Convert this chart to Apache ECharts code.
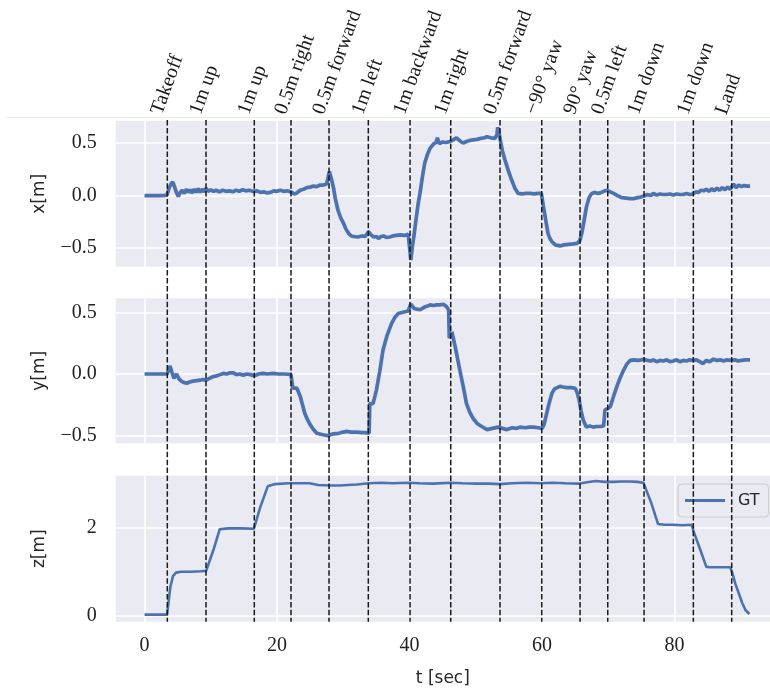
<!DOCTYPE html>
<html>
<head>
<meta charset="utf-8">
<script src="https://cdn.jsdelivr.net/npm/echarts@6/dist/echarts.min.js"></script>
<style>
  html, body { margin: 0; padding: 0; background: #ffffff; }
  #chart { width: 770px; height: 689px; }
</style>
</head>
<body>
<div id="chart"></div>
<script>
// Flight events (seconds) and their captions
const eventTimes = [3.44, 9.28, 16.57, 22.11, 27.85, 33.78, 40.08, 46.22, 53.66, 59.96, 65.74, 69.92, 75.40, 82.84, 88.63];
const eventLabels = ['Takeoff', '1m up', '1m up', '0.5m right', '0.5m forward', '1m left', '1m backward',
  '1m right', '0.5m forward', '\u221290\u00b0 yaw', '90\u00b0 yaw', '0.5m left', '1m down', '1m down', 'Land'];

// Ground-truth position, x [m]
const tX = [0, 1, 2, 3, 3.4, 3.7, 4.0, 4.25, 4.5, 4.8, 5.1, 5.4, 5.7, 6.0, 6.3, 6.6, 6.9, 7.2, 7.5, 7.8, 8.1, 8.4, 8.7, 9.0, 9.3, 9.6,
  10.0, 10.4, 10.8, 11.3, 11.8, 12.3, 12.8, 13.3, 13.8, 14.3, 14.8, 15.3, 15.8, 16.3, 16.6, 17.0, 17.5, 18.0, 18.5, 19.0, 19.5,
  20.0, 20.5, 21.0, 21.5, 22.1, 22.6, 23.0, 23.5, 24.0, 24.5, 25.0, 25.5, 26.0, 26.5, 27.0, 27.5, 27.8, 27.9, 28.2, 28.5, 28.8,
  29.2, 29.6, 30.0, 30.4, 30.8, 31.2, 31.6, 32.2, 32.8, 33.3, 33.8, 34.2, 34.6, 35.0, 35.3, 35.7, 36.1, 36.5, 37.0, 37.5, 38.0,
  38.6, 39.2, 39.8, 40.0, 40.2, 40.4, 40.7, 41.0, 41.3, 41.6, 42.0, 42.3, 42.7, 43.1, 43.6, 44.0, 44.2, 44.5, 45.0, 45.5, 46.1,
  46.6, 47.1, 47.6, 48.1, 48.6, 49.1, 49.6, 50.2, 50.8, 51.3, 51.7, 52.3, 52.9, 53.2, 53.3, 53.5, 53.7, 54.0, 54.4, 54.9, 55.4,
  55.9, 56.4, 57.0, 57.6, 58.2, 58.8, 59.4, 59.9, 60.2, 60.6, 60.9, 61.2, 61.5, 62.0, 62.7, 63.3, 64.0, 64.7, 65.3, 65.7, 66.0,
  66.4, 66.7, 67.1, 67.5, 68.0, 68.4, 68.8, 69.3, 69.8, 70.3, 70.8, 71.4, 72.0, 72.7, 73.3, 73.8, 74.4, 74.9, 75.4, 75.9, 76.4,
  76.8, 77.3, 77.8, 78.3, 78.8, 79.3, 79.8, 80.3, 80.8, 81.3, 81.8, 82.3, 82.8, 83.2, 83.6, 84.0, 84.4, 84.8, 85.2, 85.6, 86.0,
  86.4, 86.8, 87.2, 87.6, 88.0, 88.4, 88.9, 89.3, 89.7, 90.1, 90.5, 91.0, 91.4];
const xPos = [0, 0, 0, 0.002, 0.005, 0.07, 0.11, 0.13, 0.09, 0.03, -0.01, 0.03, 0.05, 0.02, 0.06, 0.03, 0.055, 0.025, 0.06, 0.03,
  0.065, 0.03, 0.06, 0.035, 0.07, 0.04, 0.055, 0.04, 0.05, 0.035, 0.05, 0.04, 0.045, 0.035, 0.05, 0.04, 0.055, 0.045, 0.05, 0.04,
  0.055, 0.045, 0.03, 0.035, 0.025, 0.03, 0.045, 0.04, 0.05, 0.04, 0.045, 0.035, 0.015, 0.025, 0.05, 0.06, 0.075, 0.08, 0.09,
  0.085, 0.1, 0.1, 0.11, 0.115, 0.23, 0.16, 0.08, -0.03, -0.14, -0.21, -0.26, -0.32, -0.36, -0.385, -0.39, -0.395, -0.385, -0.39,
  -0.345, -0.375, -0.395, -0.39, -0.41, -0.39, -0.385, -0.40, -0.395, -0.385, -0.38, -0.375, -0.38, -0.37, -0.38, -0.615, -0.50,
  -0.37, -0.22, -0.08, 0.03, 0.2, 0.31, 0.39, 0.45, 0.49, 0.505, 0.55, 0.495, 0.51, 0.505, 0.515, 0.53, 0.55, 0.52, 0.50, 0.515,
  0.525, 0.53, 0.535, 0.545, 0.55, 0.56, 0.55, 0.545, 0.58, 0.65, 0.6, 0.53, 0.43, 0.34, 0.24, 0.15, 0.07, 0.02, 0.015, 0.02,
  0.02, 0.015, 0.02, 0.02, -0.1, -0.25, -0.36, -0.41, -0.44, -0.47, -0.48, -0.47, -0.465, -0.46, -0.455, -0.43, -0.36, -0.22,
  -0.11, -0.02, 0.02, 0.03, 0.02, 0.025, 0.04, 0.05, 0.035, 0.02, 0.0, -0.02, -0.025, -0.03, -0.03, -0.02, -0.015, -0.005, 0.01,
  0.0, 0.02, 0.005, 0.015, 0.01, 0.01, 0.015, 0.005, 0.015, 0.01, 0.01, 0.02, 0.01, 0.015, 0.035, 0.03, 0.05, 0.045, 0.06, 0.04,
  0.065, 0.045, 0.07, 0.05, 0.075, 0.055, 0.08, 0.06, 0.11, 0.075, 0.1, 0.085, 0.095, 0.09, 0.09];

// Ground-truth position, y [m]
const tY = [0, 1, 2, 3, 3.4, 3.6, 3.85, 4.1, 4.45, 4.85, 5.2, 5.6, 6.0, 6.4, 6.8, 7.2, 7.6, 7.9, 8.4, 8.8, 9.3, 9.8, 10.4, 10.9,
  11.4, 11.9, 12.4, 12.9, 13.4, 13.9, 14.4, 14.9, 15.4, 16.0, 16.6, 17.2, 17.9, 18.5, 19.4, 20.2, 21.0, 21.6, 22.1, 22.4, 22.7,
  23.0, 23.5, 24.2, 24.6, 25.0, 25.5, 26.0, 26.8, 27.7, 28.1, 28.5, 29.3, 30.0, 30.5, 31.2, 32.0, 32.8, 33.4, 33.9, 34.0, 34.5,
  35.0, 35.5, 36.0, 36.6, 37.3, 37.8, 38.3, 39.0, 39.8, 40.2, 40.7, 41.1, 41.6, 42.2, 42.7, 43.1, 43.6, 44.1, 44.6, 45.1, 45.6,
  45.9, 46.0, 46.4, 46.9, 47.3, 47.6, 48.1, 48.6, 49.1, 49.6, 50.2, 50.9, 51.7, 52.5, 53.4, 54.0, 54.7, 55.5, 56.2, 56.7, 57.5,
  58.1, 58.7, 59.4, 60.0, 60.3, 60.7, 61.1, 61.5, 61.9, 62.2, 62.7, 63.2, 63.8, 64.4, 65.0, 65.3, 65.6, 65.9, 66.2, 66.7, 67.2,
  67.7, 68.2, 68.8, 69.3, 69.5, 69.9, 70.3, 70.8, 71.3, 71.8, 72.3, 72.8, 73.3, 73.9, 74.5, 75.0, 75.4, 75.9, 76.4, 76.8, 77.3,
  77.8, 78.3, 78.8, 79.3, 79.8, 80.3, 80.8, 81.3, 81.8, 82.3, 82.8, 83.3, 83.8, 84.3, 84.8, 85.3, 85.9, 86.4, 86.9, 87.4, 87.9,
  88.6, 89.1, 89.6, 90.1, 90.6, 91.4];
const yPos = [0, 0, 0, 0, 0, 0.03, 0.065, 0.02, -0.035, 0.0, -0.04, -0.06, -0.07, -0.075, -0.065, -0.06, -0.055, -0.05, -0.05,
  -0.045, -0.05, -0.035, -0.02, -0.015, -0.005, 0.005, 0.0, 0.01, 0.01, -0.005, 0.0, -0.01, 0.0, -0.005, -0.015, 0.0, 0.005, 0.0,
  0.005, 0.0, 0.0, -0.002, -0.005, -0.115, -0.10, -0.115, -0.18, -0.32, -0.37, -0.41, -0.45, -0.48, -0.49, -0.50, -0.49, -0.485,
  -0.48, -0.47, -0.465, -0.47, -0.47, -0.475, -0.475, -0.48, -0.24, -0.24, -0.13, 0.02, 0.195, 0.31, 0.41, 0.46, 0.49, 0.50,
  0.51, 0.567, 0.53, 0.525, 0.52, 0.54, 0.55, 0.56, 0.555, 0.56, 0.56, 0.565, 0.545, 0.52, 0.29, 0.34, 0.22, 0.11, 0.03, -0.10,
  -0.24, -0.31, -0.36, -0.40, -0.425, -0.45, -0.44, -0.43, -0.44, -0.45, -0.435, -0.44, -0.43, -0.435, -0.43, -0.43, -0.435,
  -0.44, -0.41, -0.32, -0.23, -0.155, -0.12, -0.11, -0.10, -0.105, -0.11, -0.11, -0.115, -0.15, -0.21, -0.30, -0.37, -0.43,
  -0.42, -0.43, -0.425, -0.425, -0.42, -0.29, -0.28, -0.265, -0.18, -0.10, -0.03, 0.03, 0.08, 0.11, 0.115, 0.11, 0.115, 0.12,
  0.11, 0.105, 0.115, 0.10, 0.11, 0.105, 0.115, 0.1, 0.105, 0.115, 0.10, 0.11, 0.105, 0.115, 0.11, 0.115, 0.1, 0.085, 0.11,
  0.10, 0.12, 0.11, 0.115, 0.105, 0.115, 0.11, 0.115, 0.105, 0.11, 0.115, 0.115];

// Ground-truth position, z [m]
const tZ = [0, 3.4, 3.9, 4.3, 4.75, 5.5, 7.0, 8.5, 9.3, 10.4, 11.35, 12.6, 14.5, 16.5, 17.5, 18.6, 19.7, 21.7, 23.5, 24.9, 26.2,
  28.0, 29.4, 32.0, 33.9, 35.8, 37.5, 39.7, 41.5, 43.6, 46.2, 48.0, 50.0, 52.0, 53.6, 55.5, 57.7, 59.7, 61.7, 63.5, 65.5, 66.8,
  68.1, 69.5, 70.7, 72.0, 73.3, 74.4, 75.3, 76.5, 77.5, 78.5, 79.7, 81.2, 82.6, 82.9, 83.9, 84.8, 85.5, 86.2, 87.3, 88.4, 88.75,
  89.2, 89.7, 90.2, 90.7, 91.3];
const zPos = [0.03, 0.03, 0.66, 0.9, 0.98, 1.0, 1.0, 1.01, 1.02, 1.49, 1.96, 1.98, 1.98, 1.97, 2.47, 2.93, 2.98, 3.0, 3.0, 3.0,
  2.96, 2.95, 2.95, 2.97, 3.0, 3.01, 3.0, 3.01, 3.0, 2.99, 3.01, 3.0, 2.99, 2.99, 2.98, 3.0, 3.01, 3.0, 3.01, 3.0, 2.99, 3.02,
  3.05, 3.03, 3.03, 3.04, 3.04, 3.03, 3.01, 2.55, 2.08, 2.06, 2.06, 2.05, 2.06, 1.9, 1.49, 1.11, 1.10, 1.10, 1.10, 1.10, 0.96,
  0.72, 0.51, 0.3, 0.135, 0.045];

// Axis ticks
const timeTicks = [0, 20, 40, 60, 80];
const xTicks = [-0.5, 0, 0.5];
const yTicks = [-0.5, 0, 0.5];
const zTicks = [0, 2];

// ---- layout ----
const COLOR = '#4c72b0';
const PANEL_BG = '#eaeaf2';
const SERIF = '"Liberation Serif", "DejaVu Serif", serif';
const SANS = '"DejaVu Sans", sans-serif';
const PANEL_LEFT = 115.7;
const PANEL_W = 654.3;            // panels run to the right edge of the canvas
const T_MIN = -4.35, T_MAX = 94.41;
const panels = [
  { top: 121, height: 145.7, min: -0.678, max: 0.71, ticks: xTicks, name: 'x[m]', fmt: v => v.toFixed(1) },
  { top: 298.3, height: 145, min: -0.561, max: 0.613, ticks: yTicks, name: 'y[m]', fmt: v => v.toFixed(1) },
  { top: 475.7, height: 146, min: -0.129, max: 3.17, ticks: zTicks, name: 'z[m]', fmt: v => String(v) }
];
const pxPerSec = PANEL_W / (T_MAX - T_MIN);
const OVER_LEFT = 7;
const OVER_TOP = 120;
const OVER_BOTTOM = 621.7;
const overMin = T_MIN - (PANEL_LEFT - OVER_LEFT) / pxPerSec;
const LABEL_ANGLE = 70;

const minus = s => s.replace('-', '\u2212');
const pairs = (ts, vs) => ts.map((t, i) => [t, vs[i]]);

const grids = panels.map(p => ({ left: PANEL_LEFT, top: p.top, width: PANEL_W, height: p.height,
  show: true, backgroundColor: PANEL_BG, borderWidth: 0 }));
grids.push({ left: OVER_LEFT, top: OVER_TOP, width: PANEL_LEFT + PANEL_W - OVER_LEFT, height: OVER_BOTTOM - OVER_TOP });

const xAxes = panels.map((p, i) => ({
  type: 'value', gridIndex: i, min: T_MIN, max: T_MAX,
  axisLine: { show: false },
  axisTick: { show: false, customValues: timeTicks },
  axisLabel: { show: i === 2, customValues: timeTicks, fontFamily: SERIF, fontSize: 20, color: '#222', margin: 14 },
  splitLine: { show: true, lineStyle: { color: '#ffffff', width: 1.6 } },
  name: i === 2 ? 't [sec]' : '', nameLocation: 'middle', nameGap: 48,
  nameTextStyle: { fontFamily: SANS, fontSize: 17, color: '#262626' }
}));
// thin rule along the top of the event-marker layer
xAxes.push({
  type: 'value', gridIndex: 3, min: overMin, max: T_MAX, position: 'top', offset: 3,
  axisLine: { show: true, onZero: false, lineStyle: { color: '#ebebeb', width: 1 } },
  axisTick: { show: false }, axisLabel: { show: false }, splitLine: { show: false }
});

const yAxes = panels.map((p, i) => ({
  type: 'value', gridIndex: i, min: p.min, max: p.max,
  axisLine: { show: false },
  axisTick: { show: false, customValues: p.ticks },
  axisLabel: { customValues: p.ticks, formatter: v => minus(p.fmt(v)), fontFamily: SERIF, fontSize: 20, color: '#222', margin: 19 },
  splitLine: { show: true, lineStyle: { color: '#ffffff', width: 1.6 } },
  name: p.name, nameLocation: 'middle', nameRotate: 90, nameGap: 68,
  nameTextStyle: { fontFamily: SANS, fontSize: 17, color: '#262626' }
}));
yAxes.push({ type: 'value', gridIndex: 3, min: 0, max: 1, show: false });

const lineSeries = (data, idx, width) => ({
  type: 'line', name: 'GT', xAxisIndex: idx, yAxisIndex: idx, data,
  showSymbol: false, symbol: 'none', smooth: false,
  lineStyle: { color: COLOR, width }, itemStyle: { color: COLOR }, z: 3
});

const option = {
  animation: false,
  backgroundColor: '#ffffff',
  grid: grids,
  xAxis: xAxes,
  yAxis: yAxes,
  legend: {
    data: [{ name: 'GT', icon: 'rect' }], left: 678, top: 484, selectedMode: false,
    padding: [7, 9, 7, 7], itemWidth: 40, itemHeight: 3,
    backgroundColor: 'rgba(234,234,242,0.8)', borderColor: '#cccccc', borderWidth: 1, borderRadius: 4,
    textStyle: { fontFamily: SANS, fontSize: 16, color: '#262626', padding: [0, 0, 0, 8], lineHeight: 19 },
    z: 4
  },
  series: [
    lineSeries(pairs(tX, xPos), 0, 3.7),
    lineSeries(pairs(tY, yPos), 1, 3.7),
    lineSeries(pairs(tZ, zPos), 2, 2.6),
    {
      type: 'custom', name: 'events', xAxisIndex: 3, yAxisIndex: 3, clip: false, z: 10,
      data: eventTimes.map(t => [t, 0]),
      encode: { x: 0, y: 1 },
      renderItem: (params, api) => {
        const t = api.value(0);
        const bottom = api.coord([t, 0]);
        const top = api.coord([t, 1]);
        return {
          type: 'group',
          children: [
            { type: 'line', shape: { x1: top[0], y1: top[1], x2: bottom[0], y2: bottom[1] },
              style: { stroke: '#1a1a1a', lineWidth: 1.5, lineDash: [5.5, 2.4] } },
            { type: 'text', x: top[0] - 1, y: top[1] - 3, rotation: LABEL_ANGLE * Math.PI / 180,
              style: { text: eventLabels[params.dataIndex], font: '20px ' + SERIF, fill: '#1a1a1a',
                align: 'left', verticalAlign: 'bottom' } }
          ]
        };
      }
    }
  ]
};

const chart = echarts.init(document.getElementById('chart'), null, { renderer: 'canvas' });
chart.setOption(option);
</script>
</body>
</html>
